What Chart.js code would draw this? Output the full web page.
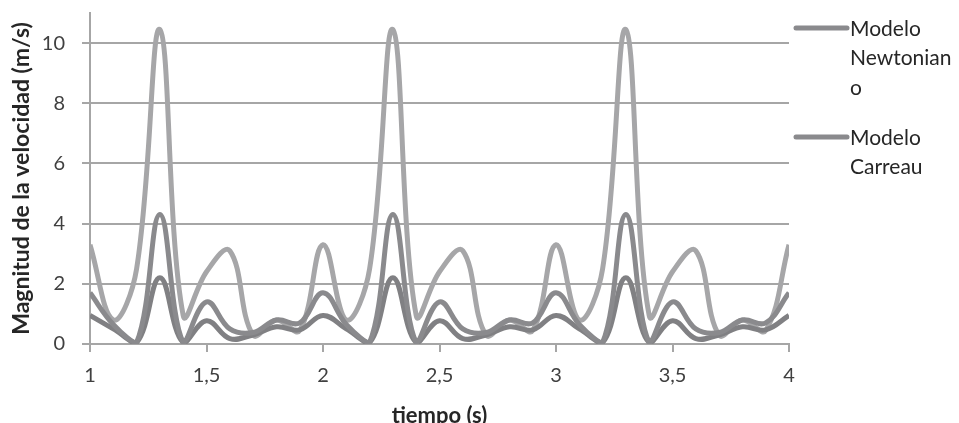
<!DOCTYPE html>
<html>
<head>
<meta charset="utf-8">
<script src="https://cdn.jsdelivr.net/npm/chart.js@4.4.1/dist/chart.umd.min.js"></script>
<style>
  html, body { margin: 0; padding: 0; background: #fff; }
  #contenedor { width: 959px; height: 423px; }
</style>
</head>
<body>
<div id="contenedor"><canvas id="graficoVelocidad"></canvas></div>
<script>
// tiempo (s)
const tiempo = [1.0, 1.1, 1.2, 1.3, 1.4, 1.5, 1.6, 1.7, 1.8, 1.9,
                2.0, 2.1, 2.2, 2.3, 2.4, 2.5, 2.6, 2.7, 2.8, 2.9,
                3.0, 3.1, 3.2, 3.3, 3.4, 3.5, 3.6, 3.7, 3.8, 3.9, 4.0];

// serie gris clara (la de picos altos)
const serieClara = [3.3, 0.8, 2.5, 10.45, 0.95, 2.4, 3.1, 0.3, 0.8, 0.45,
                    3.3, 0.8, 2.5, 10.45, 0.95, 2.4, 3.1, 0.3, 0.8, 0.45,
                    3.3, 0.8, 2.5, 10.45, 0.95, 2.4, 3.1, 0.3, 0.8, 0.45, 3.3];

const serieNewtoniano = [1.7, 0.65, 0.05, 4.3, 0.05, 1.4, 0.5, 0.38, 0.8, 0.7,
                         1.7, 0.65, 0.05, 4.3, 0.05, 1.4, 0.5, 0.38, 0.8, 0.7,
                         1.7, 0.65, 0.05, 4.3, 0.05, 1.4, 0.5, 0.38, 0.8, 0.7, 1.7];

const serieCarreau = [0.95, 0.5, 0.05, 2.2, 0.05, 0.77, 0.18, 0.3, 0.57, 0.47,
                      0.95, 0.5, 0.05, 2.2, 0.05, 0.77, 0.18, 0.3, 0.57, 0.47,
                      0.95, 0.5, 0.05, 2.2, 0.05, 0.77, 0.18, 0.3, 0.57, 0.47, 0.95];

const leyenda = [
    { lineas: ['Modelo', 'Newtonian', 'o'], color: 'rgb(138,138,141)' },
    { lineas: ['Modelo', 'Carreau'], color: 'rgb(138,138,141)' }
];

const fuente = 'Lato, "Open Sans", sans-serif';
const gris = '#a6a6a6';

const puntos = (valores) => valores.map((v, i) => ({ x: tiempo[i], y: v }));

// leyenda dibujada a mano porque las etiquetas van partidas en varias lineas
const leyendaPlugin = {
    id: 'leyendaMultilinea',
    afterDraw(chart) {
        const ctx = chart.ctx;
        const x0 = 796;
        let y = 28;
        ctx.save();
        leyenda.forEach(item => {
            ctx.strokeStyle = item.color;
            ctx.lineWidth = 5;
            ctx.lineCap = 'round';
            ctx.beginPath();
            ctx.moveTo(x0, y);
            ctx.lineTo(x0 + 51, y);
            ctx.stroke();
            ctx.fillStyle = '#262626';
            ctx.font = '21px ' + fuente;
            ctx.textAlign = 'left';
            ctx.textBaseline = 'middle';
            item.lineas.forEach((txt, k) => {
                ctx.fillText(txt, x0 + 54, y + 1 + k * 29.5);
            });
            y += 109;
        });
        ctx.restore();
    }
};

const grafico = new Chart(document.getElementById('graficoVelocidad').getContext('2d'), {
    type: 'line',
    data: {
        datasets: [
            {
                label: 'Modelo Newtoniano',
                data: puntos(serieNewtoniano),
                borderColor: 'rgb(138,138,141)',
                borderWidth: 5,
                pointRadius: 0,
                tension: 0.4
            },
            {
                label: 'Modelo Carreau',
                data: puntos(serieCarreau),
                borderColor: 'rgb(128,128,131)',
                borderWidth: 5,
                pointRadius: 0,
                tension: 0.4
            },
            {
                label: 'Serie 3',
                data: puntos(serieClara),
                borderColor: 'rgb(166,166,168)',
                borderWidth: 5,
                pointRadius: 0,
                tension: 0.4
            }
        ]
    },
    options: {
        responsive: true,
        maintainAspectRatio: false,
        animation: false,
        layout: { padding: { left: 0, right: 170, top: 13, bottom: 0 } },
        plugins: {
            legend: { display: false },
            tooltip: { enabled: false }
        },
        scales: {
            x: {
                type: 'linear',
                min: 1,
                max: 4,
                ticks: {
                    stepSize: 0.5,
                    color: '#404040',
                    font: { family: fuente, size: 20 },
                    padding: 12,
                    callback: (v) => String(v).replace('.', ',')
                },
                grid: { drawOnChartArea: false, drawTicks: true, tickLength: 8, color: gris, lineWidth: 2 },
                border: { color: gris, width: 2 },
                title: {
                    display: true,
                    text: 'tiempo (s)',
                    color: '#262626',
                    font: { family: fuente, size: 22, weight: 'bold', lineHeight: 0.6 },
                    padding: { top: 0, bottom: 0 }
                },
                afterFit: (scale) => {
                    scale.height = 79;
                    scale.paddingLeft = 0;
                    scale.paddingRight = 0;
                }
            },
            y: {
                min: 0,
                max: 11,
                ticks: {
                    stepSize: 2,
                    color: '#404040',
                    font: { family: fuente, size: 20 },
                    padding: 17
                },
                afterBuildTicks: (scale) => {
                    scale.ticks = scale.ticks.filter(t => t.value % 2 === 0);
                },
                grid: { color: gris, lineWidth: 2, tickLength: 8 },
                border: { color: gris, width: 2 },
                title: {
                    display: true,
                    text: 'Magnitud de la velocidad (m/s)',
                    color: '#262626',
                    font: { family: fuente, size: 23, weight: 'bold', lineHeight: 1 },
                    padding: { top: 10, bottom: 0 }
                },
                afterFit: (scale) => {
                    scale.width = 90;
                    scale.paddingTop = 0;
                    scale.paddingBottom = 0;
                }
            }
        }
    },
    plugins: [leyendaPlugin]
});
</script>
</body>
</html>
